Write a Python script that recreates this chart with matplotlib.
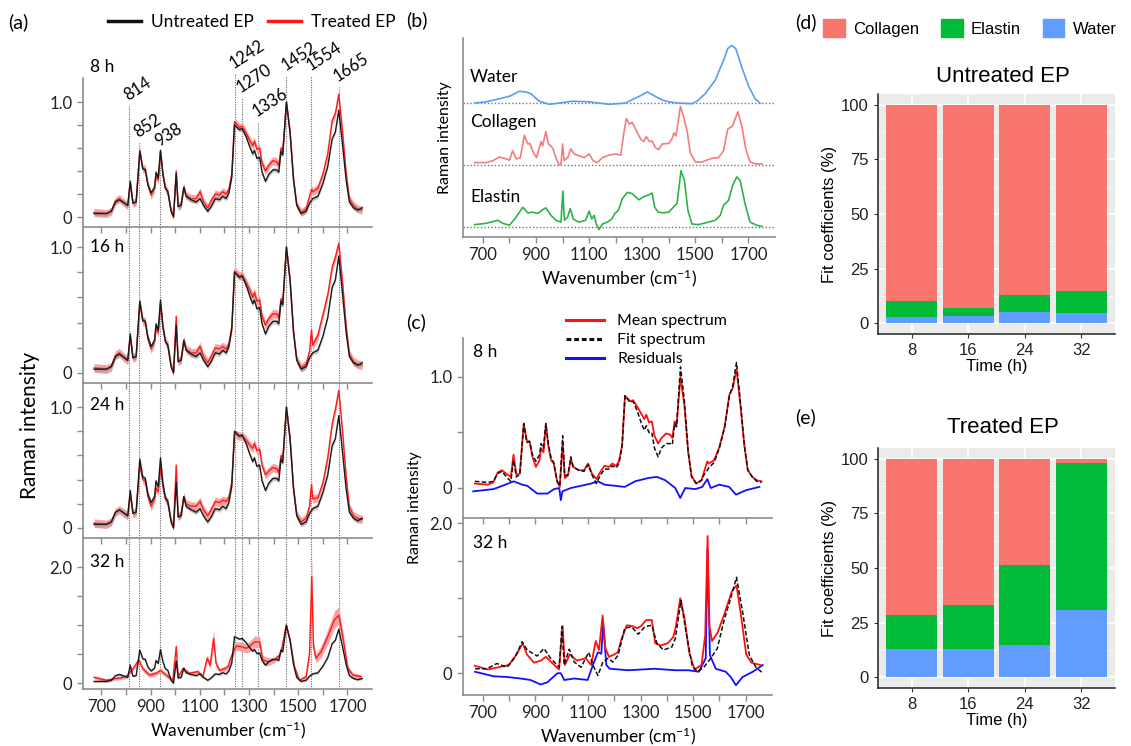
import numpy as np
import matplotlib
matplotlib.use('Agg')
import matplotlib.pyplot as plt
from matplotlib.lines import Line2D
from matplotlib.patches import Patch

plt.rcParams['font.family'] = ['Lato', 'DejaVu Sans']
plt.rcParams['mathtext.default'] = 'regular'

W, H = 1131, 746

# ---------------- data ----------------
# mean spectra, (wavenumber, intensity)
untreated = [(670,0.03),(720,0.03),(740,0.05),(757,0.13),(773,0.15),(794,0.12),(807,0.10),(817,0.31),(828,0.12),
             (841,0.13),(856,0.57),(868,0.42),(878,0.41),(889,0.28),(902,0.21),(916,0.26),(922,0.39),(931,0.34),
             (940,0.58),(950,0.37),(960,0.25),(970,0.22),(983,0.05),(993,0.00),(1004,0.38),(1012,0.09),(1024,0.10),
             (1035,0.26),(1044,0.18),(1065,0.15),(1085,0.13),(1101,0.16),(1115,0.10),(1132,0.05),(1146,0.09),
             (1163,0.16),(1180,0.15),(1193,0.18),(1207,0.16),(1218,0.21),(1230,0.35),(1241,0.80),(1261,0.76),
             (1272,0.77),(1288,0.70),(1305,0.60),(1315,0.55),(1322,0.58),(1332,0.51),(1343,0.52),(1353,0.39),
             (1367,0.31),(1380,0.37),(1397,0.41),(1413,0.41),(1421,0.39),(1430,0.57),(1437,0.54),(1452,1.00),
             (1467,0.73),(1481,0.32),(1494,0.10),(1512,0.03),(1532,0.05),(1546,0.12),(1559,0.16),(1580,0.18),
             (1600,0.29),(1620,0.44),(1638,0.68),(1651,0.74),(1665,0.93),(1681,0.61),(1695,0.32),(1708,0.13),
             (1725,0.08),(1742,0.06),(1760,0.08)]

treated_8 = [(670,0.04),(720,0.03),(740,0.05),(757,0.14),(773,0.16),(794,0.12),(807,0.10),(817,0.30),(828,0.12),
             (841,0.13),(856,0.58),(868,0.42),(878,0.42),(889,0.28),(902,0.19),(916,0.25),(922,0.36),(931,0.32),
             (940,0.57),(950,0.37),(960,0.25),(970,0.22),(983,0.06),(993,0.01),(1004,0.40),(1012,0.09),(1024,0.11),
             (1035,0.26),(1044,0.19),(1065,0.16),(1085,0.16),(1101,0.22),(1115,0.13),(1132,0.08),(1146,0.14),
             (1163,0.20),(1180,0.19),(1193,0.22),(1207,0.20),(1218,0.24),(1230,0.38),(1241,0.83),(1261,0.78),
             (1272,0.79),(1288,0.73),(1305,0.66),(1315,0.62),(1322,0.66),(1332,0.59),(1343,0.60),(1353,0.47),
             (1367,0.40),(1380,0.45),(1397,0.49),(1413,0.48),(1421,0.45),(1430,0.60),(1437,0.56),(1452,1.00),
             (1467,0.74),(1481,0.33),(1494,0.11),(1512,0.04),(1532,0.07),(1546,0.18),(1554,0.24),(1559,0.22),
             (1580,0.25),(1600,0.37),(1620,0.55),(1638,0.84),(1651,0.90),(1665,1.07),(1681,0.72),(1695,0.38),
             (1708,0.16),(1725,0.10),(1742,0.07),(1760,0.06)]

treated_16 = [(670,0.04),(720,0.03),(740,0.05),(757,0.14),(773,0.16),(794,0.12),(807,0.10),(817,0.29),(828,0.12),
              (841,0.13),(856,0.56),(868,0.41),(878,0.41),(889,0.27),(902,0.19),(916,0.25),(922,0.36),(931,0.32),
              (940,0.55),(950,0.36),(960,0.25),(970,0.22),(983,0.06),(993,0.01),(1004,0.45),(1012,0.09),(1024,0.11),
              (1035,0.26),(1044,0.19),(1065,0.16),(1085,0.16),(1101,0.21),(1115,0.13),(1132,0.08),(1146,0.13),
              (1163,0.20),(1180,0.19),(1193,0.21),(1207,0.19),(1218,0.23),(1230,0.37),(1241,0.81),(1261,0.77),
              (1272,0.78),(1288,0.72),(1305,0.65),(1315,0.60),(1322,0.64),(1332,0.57),(1343,0.58),(1353,0.45),
              (1367,0.38),(1380,0.43),(1397,0.47),(1413,0.47),(1421,0.44),(1430,0.59),(1437,0.55),(1452,1.00),
              (1467,0.74),(1481,0.33),(1494,0.11),(1512,0.04),(1532,0.07),(1546,0.17),(1554,0.34),(1559,0.22),
              (1580,0.30),(1600,0.46),(1620,0.62),(1638,0.84),(1651,0.92),(1665,1.03),(1681,0.70),(1695,0.37),
              (1708,0.15),(1725,0.09),(1742,0.07),(1760,0.06)]

treated_24 = [(670,0.04),(720,0.03),(740,0.05),(757,0.13),(773,0.15),(794,0.12),(807,0.10),(817,0.28),(828,0.12),
              (841,0.13),(856,0.52),(868,0.40),(878,0.39),(889,0.26),(902,0.18),(916,0.24),(922,0.33),(931,0.30),
              (940,0.50),(950,0.34),(960,0.24),(970,0.21),(983,0.06),(993,0.01),(1004,0.52),(1012,0.09),(1024,0.12),
              (1035,0.26),(1044,0.20),(1065,0.18),(1085,0.18),(1101,0.22),(1115,0.15),(1132,0.10),(1146,0.15),
              (1163,0.22),(1180,0.21),(1193,0.23),(1207,0.22),(1218,0.25),(1230,0.38),(1241,0.78),(1261,0.76),
              (1272,0.76),(1288,0.73),(1305,0.68),(1315,0.66),(1322,0.70),(1332,0.64),(1343,0.65),(1353,0.52),
              (1367,0.44),(1380,0.47),(1397,0.50),(1413,0.49),(1421,0.46),(1430,0.60),(1437,0.56),(1452,1.00),
              (1467,0.74),(1481,0.33),(1494,0.11),(1512,0.05),(1532,0.08),(1546,0.18),(1554,0.36),(1559,0.24),
              (1580,0.25),(1600,0.37),(1620,0.58),(1638,0.86),(1651,0.98),(1665,1.14),(1681,0.78),(1695,0.42),
              (1708,0.17),(1725,0.10),(1742,0.08),(1760,0.07)]

# (wavenumber, mean, sd)
treated_32 = [(670,0.10,0.03),(719,0.05,0.03),(760,0.08,0.03),(800,0.11,0.03),(828,0.25,0.04),(852,0.40,0.05),
              (868,0.25,0.04),(895,0.14,0.04),(922,0.17,0.04),(940,0.22,0.04),(963,0.14,0.04),(990,0.05,0.03),
              (1004,0.63,0.05),(1012,0.11,0.03),(1031,0.25,0.03),(1058,0.17,0.03),(1092,0.20,0.03),(1112,0.11,0.04),
              (1130,0.43,0.06),(1142,0.31,0.06),(1156,0.77,0.15),(1166,0.34,0.06),(1180,0.22,0.04),(1200,0.25,0.04),
              (1214,0.28,0.05),(1227,0.45,0.06),(1248,0.64,0.07),(1268,0.63,0.08),(1288,0.60,0.08),(1302,0.63,0.09),
              (1322,0.71,0.10),(1343,0.71,0.10),(1356,0.40,0.08),(1376,0.37,0.07),(1403,0.40,0.05),(1424,0.48,0.04),
              (1435,0.63,0.04),(1451,1.00,0.04),(1467,0.74,0.04),(1485,0.28,0.03),(1505,0.05,0.03),(1532,0.11,0.04),
              (1546,0.51,0.10),(1555,1.83,0.35),(1562,0.63,0.10),(1572,0.43,0.08),(1593,0.54,0.10),(1620,0.80,0.13),
              (1647,1.09,0.15),(1665,1.17,0.15),(1681,0.80,0.12),(1702,0.25,0.06),(1722,0.14,0.04),(1756,0.11,0.04)]

untreated_sd = 0.02
treated_sd = 0.035

# reference spectra for panel (b)
water = [(669,0.0),(712,0.02),(762,0.07),(800,0.11),(837,0.19),(862,0.18),(881,0.15),(912,0.03),(950,-0.02),
         (987,0.0),(1037,0.03),(1100,0.02),(1175,-0.02),(1237,0.0),(1269,0.07),(1294,0.12),(1319,0.18),(1344,0.12),
         (1375,0.05),(1400,0.02),(1437,0.0),(1487,-0.01),(1506,0.03),(1537,0.15),(1575,0.37),(1606,0.69),(1622,0.88),
         (1637,0.93),(1652,0.88),(1675,0.58),(1700,0.28),(1725,0.07),(1744,0.0)]

collagen = [(669,0.04),(712,0.04),(737,0.07),(762,0.13),(787,0.10),(800,0.08),(812,0.23),(825,0.10),(841,0.12),
            (856,0.48),(869,0.34),(877,0.35),(890,0.20),(902,0.12),(919,0.38),(925,0.31),(937,0.54),(947,0.34),
            (962,0.28),(975,0.12),(987,0.0),(994,0.02),(1000,0.34),(1006,0.07),(1019,0.12),(1031,0.26),(1044,0.18),
            (1062,0.15),(1081,0.12),(1100,0.18),(1115,0.07),(1131,0.04),(1150,0.12),(1175,0.16),(1200,0.18),
            (1219,0.16),(1229,0.47),(1240,0.75),(1252,0.66),(1262,0.69),(1275,0.58),(1294,0.42),(1306,0.38),
            (1315,0.46),(1327,0.38),(1337,0.39),(1350,0.28),(1362,0.25),(1375,0.34),(1400,0.35),(1412,0.42),
            (1419,0.52),(1427,0.47),(1444,0.95),(1456,0.77),(1469,0.55),(1481,0.20),(1500,0.05),(1525,0.05),
            (1562,0.11),(1587,0.12),(1606,0.23),(1622,0.58),(1640,0.63),(1660,0.86),(1675,0.63),(1690,0.26),
            (1706,0.05),(1725,0.02),(1750,0.02)]

elastin = [(669,0.04),(712,0.06),(756,0.11),(775,0.06),(800,0.03),(825,0.16),(850,0.32),(869,0.23),(887,0.24),
           (906,0.22),(925,0.28),(937,0.31),(956,0.19),(975,0.11),(994,0.08),(1001,0.58),(1007,0.11),(1019,0.16),
           (1029,0.30),(1040,0.13),(1062,0.08),(1087,0.11),(1100,0.26),(1110,0.13),(1119,0.19),(1127,0.05),
           (1137,-0.04),(1150,0.05),(1169,0.08),(1185,0.13),(1197,0.22),(1210,0.27),(1225,0.46),(1244,0.56),
           (1262,0.54),(1287,0.44),(1306,0.49),(1325,0.52),(1337,0.55),(1347,0.32),(1360,0.24),(1381,0.23),
           (1400,0.24),(1419,0.33),(1431,0.38),(1446,0.91),(1459,0.75),(1472,0.27),(1487,0.05),(1512,0.04),
           (1550,0.08),(1575,0.11),(1594,0.19),(1606,0.35),(1625,0.43),(1640,0.67),(1656,0.81),(1669,0.75),
           (1687,0.38),(1706,0.08),(1731,0.03),(1750,0.01)]

# least-squares fits and residuals for panel (c)
fit_8 = [(670,0.06),(720,0.05),(740,0.06),(757,0.13),(773,0.15),(794,0.09),(807,0.06),(817,0.25),(828,0.10),
         (841,0.12),(856,0.58),(868,0.41),(878,0.42),(889,0.30),(902,0.24),(916,0.30),(922,0.40),(931,0.36),
         (940,0.58),(950,0.39),(960,0.27),(970,0.23),(983,0.06),(993,0.02),(1004,0.47),(1012,0.11),(1024,0.12),
         (1035,0.28),(1044,0.19),(1065,0.16),(1085,0.15),(1101,0.21),(1115,0.12),(1132,0.04),(1146,0.11),
         (1163,0.17),(1180,0.17),(1193,0.20),(1207,0.18),(1218,0.22),(1230,0.38),(1241,0.83),(1261,0.77),
         (1272,0.78),(1288,0.69),(1305,0.57),(1315,0.52),(1322,0.56),(1332,0.50),(1343,0.50),(1353,0.36),
         (1367,0.28),(1380,0.36),(1397,0.40),(1413,0.40),(1421,0.39),(1430,0.58),(1437,0.55),(1452,1.09),
         (1467,0.78),(1481,0.33),(1494,0.10),(1512,0.04),(1532,0.07),(1546,0.14),(1554,0.16),(1559,0.18),
         (1580,0.23),(1600,0.36),(1620,0.55),(1638,0.83),(1651,0.92),(1665,1.13),(1681,0.74),(1695,0.38),
         (1708,0.16),(1725,0.10),(1742,0.06),(1760,0.05)]

residual_8 = [(664,-0.03),(741,-0.01),(786,0.03),(818,0.06),(850,0.03),(869,0.02),(907,-0.05),(946,-0.05),
              (971,-0.01),(991,0.0),(997,-0.11),(1003,-0.03),(1035,0.0),(1074,0.02),(1112,0.04),(1138,0.06),
              (1163,0.03),(1202,0.02),(1240,0.01),(1279,0.06),(1330,0.09),(1362,0.10),(1394,0.07),(1432,0.0),
              (1451,-0.09),(1470,0.0),(1509,-0.01),(1535,0.01),(1554,0.08),(1567,0.0),(1599,0.03),(1637,0.01),
              (1663,-0.06),(1701,-0.02),(1752,0.01)]

fit_32 = [(671,0.06),(715,0.06),(754,0.13),(792,0.08),(824,0.22),(850,0.42),(869,0.31),(907,0.23),(933,0.33),
          (958,0.20),(991,0.08),(1001,0.62),(1010,0.11),(1029,0.32),(1048,0.15),(1074,0.08),(1103,0.28),(1119,0.11),
          (1138,-0.03),(1157,0.15),(1176,0.20),(1195,0.15),(1215,0.24),(1240,0.60),(1266,0.62),(1291,0.52),
          (1317,0.62),(1343,0.64),(1362,0.40),(1387,0.31),(1419,0.35),(1432,0.46),(1454,0.97),(1473,0.55),
          (1496,0.11),(1515,0.02),(1541,0.08),(1567,0.20),(1592,0.33),(1618,0.71),(1643,1.00),(1665,1.28),
          (1688,0.82),(1714,0.24),(1739,0.08),(1765,0.0)]

residual_32 = [(671,0.02),(741,-0.04),(792,-0.05),(843,-0.07),(882,-0.09),(920,-0.15),(946,-0.12),(984,0.0),
               (997,0.0),(1010,-0.09),(1048,-0.07),(1099,-0.09),(1119,0.11),(1138,0.28),(1151,0.26),(1158,0.68),
               (1170,0.11),(1183,0.06),(1253,0.04),(1355,0.06),(1432,0.04),(1483,0.04),(1522,0.02),(1548,0.20),
               (1555,1.66),(1564,0.24),(1586,0.06),(1624,0.02),(1643,-0.05),(1663,-0.16),(1688,-0.05),
               (1727,0.02),(1765,0.11)]

# annotated bands
peaks = [814, 852, 938, 1242, 1270, 1336, 1452, 1554, 1665]
peak_tops = [0.97, 0.65, 0.57, 1.25, 1.04, 0.83, 1.23, 1.23, 1.13]

# fit coefficients (%), panels (d) and (e)
times = ['8', '16', '24', '32']
untr_water = [2.7, 3.3, 5.0, 4.6]
untr_elastin = [7.2, 3.5, 7.9, 9.9]
untr_collagen = [90.1, 93.2, 87.1, 85.5]
tr_water = [12.7, 13.0, 14.6, 30.9]
tr_elastin = [15.7, 20.1, 36.9, 67.1]
tr_collagen = [71.6, 66.9, 48.5, 2.0]

time_labels = ['8 h', '16 h', '24 h', '32 h']

# ---------------- helpers ----------------
def box(l, t, r, b):
    return [l / W, 1 - b / H, (r - l) / W, (b - t) / H]

def ftext(x, y, s, **kw):
    fig.text(x / W, 1 - y / H, s, **kw)

AX_GRAY = '#8c8c8c'

def style_spec_axes(ax):
    for s in ['top', 'right']:
        ax.spines[s].set_visible(False)
    for s in ['left', 'bottom']:
        ax.spines[s].set_color(AX_GRAY)
        ax.spines[s].set_linewidth(1.2)
    ax.tick_params(colors=AX_GRAY, labelcolor='#222222', labelsize=12, length=4, width=1)
    ax.set_xlim(625, 1800)
    ax.set_xticks(range(700, 1800, 100))
    ax.set_xticklabels([str(v) if v % 200 == 100 else '' for v in range(700, 1800, 100)])

def spec(ax, data, color, band, sd=None, lw=1.0, z=2):
    arr = np.array(data, dtype=float)
    x, y = arr[:, 0], arr[:, 1]
    s = arr[:, 2] if arr.shape[1] > 2 else sd
    ax.fill_between(x, y - s, y + s, color=band, lw=0, zorder=z)
    ax.plot(x, y, color=color, lw=lw, zorder=z + 0.5)

fig = plt.figure(figsize=(W / 100, H / 100), dpi=100)

# ---------------- panel (a) ----------------
a_rows = [(78, 227), (227, 383), (383, 538), (538, 689)]
a_ylims = [(-0.087, 1.21), (-0.08, 1.16), (-0.083, 1.2), (-0.1, 2.5)]
a_label_y = [67, 247, 405, 562]
treated_all = [treated_8, treated_16, treated_24, treated_32]
DOT = (0, (1, 1.2))
for i, (t, b) in enumerate(a_rows):
    ax = fig.add_axes(box(83, t, 372, b))
    ax.patch.set_alpha(0)
    style_spec_axes(ax)
    ax.set_ylim(*a_ylims[i])
    if i < 3:
        ax.set_yticks(np.arange(0, 1.01, 0.2))
        ax.set_yticklabels(['0', '', '', '', '', '1.0'])
        ax.tick_params(axis='x', labelbottom=False)
    else:
        ax.set_yticks([0, 0.5, 1.0, 1.5, 2.0])
        ax.set_yticklabels(['0', '', '', '', '2.0'])
        ax.set_xlabel('Wavenumber (cm$^{-1}$)', fontsize=12.5, labelpad=3)
    if i == 0:
        ax.vlines(peaks, a_ylims[0][0], peak_tops, colors='#666666', linestyles=DOT,
                  lw=0.8, clip_on=False, zorder=1)
        for p, top in zip(peaks, peak_tops):
            ax.text(p + 3, top + 0.02, str(p), rotation=33, rotation_mode='anchor',
                    ha='left', va='bottom', fontsize=12, clip_on=False)
    else:
        for p in peaks:
            ax.axvline(p, color='#666666', ls=DOT, lw=0.8, zorder=1)
    data = treated_all[i]
    if i < 3:
        spec(ax, data, '#ff1a1a', '#f6a5a5', sd=treated_sd, z=2)
    else:
        spec(ax, data, '#ff1a1a', '#f6a5a5', z=2)
    spec(ax, untreated, '#1a1a1a', (0.55, 0.55, 0.55, 0.45), sd=untreated_sd, z=4)
    ftext(90, a_label_y[i], time_labels[i], fontsize=12.5, ha='left', va='center')

ftext(8, 22, '(a)', fontsize=14, ha='left', va='center')
ftext(30, 425, 'Raman intensity', fontsize=15, rotation=90, ha='center', va='center')
leg_a = [Line2D([], [], color='#111111', lw=2.5), Line2D([], [], color='#ff1a1a', lw=2.5)]
fig.legend(leg_a, ['Untreated EP', 'Treated EP'], loc='center left', bbox_to_anchor=(92 / W, 1 - 22 / H),
           ncol=2, frameon=False, fontsize=12.5, handlelength=1.9, handletextpad=0.6, columnspacing=0.8)

# ---------------- panel (b) ----------------
axb = fig.add_axes(box(463, 38, 775, 237))
style_spec_axes(axb)
axb.set_ylim(-0.16, 3.05)
axb.set_yticks([])
for d, off, col in [(elastin, 0, '#2db34a'), (collagen, 1, '#f47c7c'), (water, 2, '#5b9cf2')]:
    arr = np.array(d)
    axb.axhline(off, color='#777777', ls=(0, (1, 1.5)), lw=1.0, zorder=1)
    axb.plot(arr[:, 0], arr[:, 1] + off, color=col, lw=1.2, zorder=2)
axb.set_xlabel('Wavenumber (cm$^{-1}$)', fontsize=12.5, labelpad=3)
axb.set_ylabel('Raman intensity', fontsize=11.5, labelpad=8)
ftext(470, 77, 'Water', fontsize=12.5, ha='left', va='center')
ftext(470, 122, 'Collagen', fontsize=12.5, ha='left', va='center')
ftext(470, 197, 'Elastin', fontsize=12.5, ha='left', va='center')
ftext(406, 20, '(b)', fontsize=14, ha='left', va='center')

# ---------------- panel (c) ----------------
c_specs = [(338, 518, (-0.27, 1.35), treated_8, fit_8, residual_8),
           (518, 695, (-0.29, 2.07), treated_32, fit_32, residual_32)]
for j, (t, b, yl, mean, fit, res) in enumerate(c_specs):
    ax = fig.add_axes(box(463, t, 772, b))
    ax.patch.set_alpha(0)
    style_spec_axes(ax)
    ax.set_ylim(*yl)
    m = np.array(mean)
    f = np.array(fit)
    r = np.array(res)
    ax.plot(r[:, 0], r[:, 1], color='#1010ff', lw=1.3, zorder=2)
    ax.plot(m[:, 0], m[:, 1], color='#ff1010', lw=1.3, zorder=3)
    ax.plot(f[:, 0], f[:, 1], color='#111111', lw=1.1, ls=(0, (3, 1.5)), zorder=4)
    if j == 0:
        ax.set_yticks([0, 0.5, 1.0])
        ax.set_yticklabels(['0', '', '1.0'])
        ax.tick_params(axis='x', labelbottom=False)
        ftext(473, 352, '8 h', fontsize=12.5, ha='left', va='center')
    else:
        ax.set_yticks([0, 0.5, 1.0, 1.5, 2.0])
        ax.set_yticklabels(['0', '', '', '', '2.0'])
        ax.set_xlabel('Wavenumber (cm$^{-1}$)', fontsize=12.5, labelpad=3)
        ftext(473, 543, '32 h', fontsize=12.5, ha='left', va='center')

ftext(406, 322, '(c)', fontsize=14, ha='left', va='center')
ftext(415, 508, 'Raman intensity', fontsize=11.5, rotation=90, ha='center', va='center')
leg_c = [Line2D([], [], color='#ff1010', lw=2.2),
         Line2D([], [], color='#111111', lw=2.2, ls=(0, (1.6, 0.9))),
         Line2D([], [], color='#1010ff', lw=2.2)]
fig.legend(leg_c, ['Mean spectrum', 'Fit spectrum', 'Residuals'], loc='upper left',
           bbox_to_anchor=(566 / W, 1 - 314 / H), frameon=False, fontsize=11.5,
           handlelength=2.4, handletextpad=0.8, labelspacing=0.3, borderaxespad=0, borderpad=0)

# ---------------- panels (d), (e) ----------------
C_COL, C_ELA, C_WAT = '#F8766D', '#00BA38', '#619CFF'
bar_specs = [((878, 94, 1115, 334), untr_water, untr_elastin, untr_collagen, 'Untreated EP', 77, '(d)', 22),
             ((878, 448, 1115, 688), tr_water, tr_elastin, tr_collagen, 'Treated EP', 427, '(e)', 417)]
for rect, wat, ela, col, title, ty, tag, tagy in bar_specs:
    ax = fig.add_axes(box(*rect))
    x = np.arange(1, len(times) + 1)
    wat = np.array(wat)
    ela = np.array(ela)
    ax.set_facecolor('#EBEBEB')
    ax.bar(x, wat, 0.9, color=C_WAT, zorder=3)
    ax.bar(x, ela, 0.9, bottom=wat, color=C_ELA, zorder=3)
    ax.bar(x, col, 0.9, bottom=wat + ela, color=C_COL, zorder=3)
    ax.set_xlim(0.4, len(times) + 0.6)
    ax.set_ylim(-5, 105)
    ax.set_yticks([0, 25, 50, 75, 100])
    ax.set_yticks([12.5, 37.5, 62.5, 87.5], minor=True)
    ax.set_xticks(x)
    ax.set_xticklabels(times)
    ax.grid(which='major', color='white', lw=1.1, zorder=0)
    ax.grid(which='minor', axis='y', color='white', lw=0.5, zorder=0)
    ax.set_axisbelow(True)
    for s in ['top', 'right']:
        ax.spines[s].set_visible(False)
    for s in ['left', 'bottom']:
        ax.spines[s].set_color('#222222')
        ax.spines[s].set_linewidth(1.1)
    ax.tick_params(which='major', colors='#333333', labelcolor='#222222', labelsize=12, length=3, width=0.8)
    ax.tick_params(which='minor', length=0)
    for lab in ax.get_xticklabels() + ax.get_yticklabels():
        lab.set_family('Liberation Sans')
    ax.set_ylabel('Fit coefficients (%)', fontsize=12, family='Liberation Sans', labelpad=3)
    ax.set_xlabel('Time (h)', fontsize=12, family='Liberation Sans', labelpad=1)
    ftext(1003, ty, title, fontsize=16, family='Liberation Sans', ha='center', va='center')
    ftext(795, tagy, tag, fontsize=14, ha='left', va='center')

leg_d = [Patch(color=C_COL), Patch(color=C_ELA), Patch(color=C_WAT)]
fig.legend(leg_d, ['Collagen', 'Elastin', 'Water'], loc='center', bbox_to_anchor=(970 / W, 1 - 28 / H),
           ncol=3, frameon=False, prop={'family': 'Liberation Sans', 'size': 12},
           handlelength=1.3, handleheight=1.3, handletextpad=0.5, columnspacing=1.3)

fig.savefig('out.png', dpi=100)
